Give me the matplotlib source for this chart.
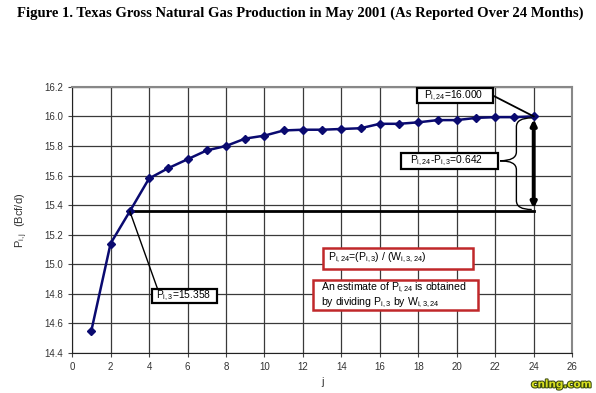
import matplotlib.pyplot as plt
from matplotlib.patches import FancyArrowPatch, Rectangle, PathPatch
from matplotlib.path import Path
import matplotlib.patheffects as pe

# Months after which the May 2001 figure was reported
months = list(range(1, 25))
# Reported production (Bcf/d)
production = [14.55, 15.14, 15.358, 15.58, 15.65, 15.71, 15.77, 15.80,
              15.85, 15.87, 15.905, 15.91, 15.91, 15.915, 15.92, 15.95,
              15.95, 15.96, 15.975, 15.975, 15.99, 15.995, 15.995, 16.0]

x_ticks = list(range(0, 27, 2))
y_ticks = [14.4, 14.6, 14.8, 15.0, 15.2, 15.4, 15.6, 15.8, 16.0, 16.2]

p3 = production[2]
p24 = production[-1]

plt.rcParams['font.family'] = ['Liberation Sans', 'DejaVu Sans']

fig = plt.figure(figsize=(5.96, 3.93), dpi=100)
ax = fig.add_axes([0.121, 0.102, 0.839, 0.677])

fig.text(0.503, 0.967, "Figure 1. Texas Gross Natural Gas Production in May 2001 (As Reported Over 24 Months)",
         ha='center', va='center', fontsize=10.5, fontweight='bold', family='Liberation Serif')

ax.plot(months, production, color='#0a0a70', linewidth=1.8, marker='D', markersize=4,
        zorder=5)

ax.set_xlim(0, 26)
ax.set_ylim(14.4, 16.2)
ax.set_xticks(x_ticks)
ax.set_yticks(y_ticks)
ax.set_yticklabels([f"{v:.1f}" for v in y_ticks])
ax.tick_params(labelsize=7, length=3, color='#444444', labelcolor='#333333')
ax.grid(True, color='#3a3a3a', linewidth=0.9)
ax.set_axisbelow(True)
for side in ['top', 'right']:
    ax.spines[side].set_color('#888888')
    ax.spines[side].set_linewidth(1.5)
for side in ['left', 'bottom']:
    ax.spines[side].set_color('#222222')

ax.set_xlabel("j", fontsize=8, color='#333333', labelpad=4)
ax.set_ylabel(r"P$_{\mathregular{i, j}}$  (Bcf/d)", fontsize=8, color='#333333', labelpad=10)

# horizontal line at P(i,3) and double arrow up to P(i,24)
ax.plot([3, 24], [p3, p3], color='black', linewidth=2, zorder=4)
ax.add_patch(FancyArrowPatch((24, p3), (24, p24), arrowstyle='<|-|>', mutation_scale=8,
                             color='black', linewidth=2.8, zorder=6))


def label_box(x0, x1, y0, y1, edge, lw):
    ax.add_patch(Rectangle((x0, y0), x1 - x0, y1 - y0, facecolor='white', edgecolor=edge,
                           linewidth=lw, zorder=7))


# P(i,3) label with leader line
ax.plot([3, 4.45], [p3, 14.83], color='black', linewidth=1, zorder=6)
label_box(4.16, 7.54, 14.74, 14.83, 'black', 1.6)
ax.text(4.35, 14.785, r"P$_{\mathregular{i, 3}}$=15.358", fontsize=7.4, ha='left', va='center', zorder=8)

# P(i,24) label with leader line
ax.plot([21.9, 24], [16.14, p24], color='black', linewidth=1.3, zorder=6)
label_box(17.94, 21.9, 16.09, 16.19, 'black', 1.6)
ax.text(18.3, 16.14, r"P$_{\mathregular{i, 24}}$=16.000", fontsize=7.4, ha='left', va='center', zorder=8)

# difference label
label_box(17.1, 22.15, 15.646, 15.754, 'black', 1.6)
ax.text(17.55, 15.70, r"P$_{\mathregular{i, 24}}$-P$_{\mathregular{i, 3}}$=0.642", fontsize=7.4,
        ha='left', va='center', zorder=8)

# curly brace spanning the two levels, pointing left at the label
bx, tip, ex = 23.1, 22.25, 23.9
mid = 15.70
brace = Path([(ex, 15.99), (bx, 15.99), (bx, 15.93),
              (bx, mid + 0.06), (bx, mid), (tip, mid),
              (bx, mid), (bx, mid - 0.06),
              (bx, 15.43), (bx, 15.37), (ex, 15.37)],
             [Path.MOVETO, Path.CURVE3, Path.CURVE3,
              Path.LINETO, Path.CURVE3, Path.CURVE3,
              Path.CURVE3, Path.CURVE3,
              Path.LINETO, Path.CURVE3, Path.CURVE3])
ax.add_patch(PathPatch(brace, facecolor='none', edgecolor='black', linewidth=1, zorder=6))

# red explanation boxes
label_box(13.05, 20.85, 14.97, 15.11, '#c0282a', 1.8)
ax.text(13.3, 15.04, r"P$_{\mathregular{i, 24}}$=(P$_{\mathregular{i, 3}}$) / (W$_{\mathregular{i, 3, 24}}$)",
        fontsize=7.6, ha='left', va='center', zorder=8)
label_box(12.53, 21.1, 14.69, 14.89, '#c0282a', 1.8)
ax.text(12.95, 14.79, "An estimate of P$_{\\mathregular{i, 24}}$ is obtained\nby dividing P$_{\\mathregular{i, 3}}$ by W$_{\\mathregular{i, 3, 24}}$",
        fontsize=7.6, ha='left', va='center', zorder=8, linespacing=1.0)

fig.text(0.993, 0.022, "cnlng.com", ha='right', va='center', fontsize=7.5, fontweight='bold',
         color='#d8e020', family='DejaVu Sans',
         path_effects=[pe.withStroke(linewidth=1.5, foreground='#3a4a10')])

fig.savefig("out.png", dpi=100)
